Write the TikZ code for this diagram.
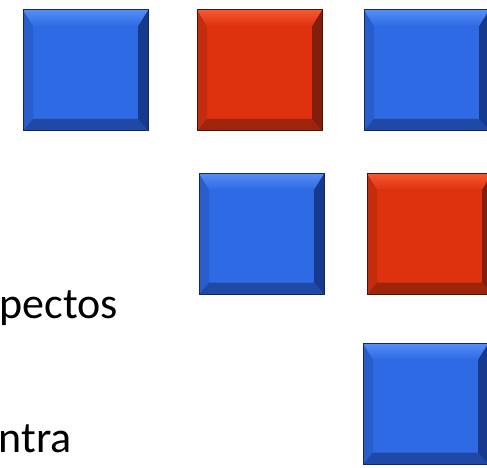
\documentclass[tikz,border=0pt]{standalone}
\usepackage{fontspec}
\setmainfont{Carlito}
\definecolor{blueface}{RGB}{46,106,228}
\definecolor{bluelight}{RGB}{84,142,246}
\definecolor{bluedark}{RGB}{24,58,140}
\definecolor{blueedge}{RGB}{20,40,90}
\definecolor{redface}{RGB}{222,50,14}
\definecolor{redlight}{RGB}{246,88,50}
\definecolor{reddark}{RGB}{130,30,12}
\definecolor{rededge}{RGB}{70,20,15}
\begin{document}
\begin{tikzpicture}[x=1pt,y=-1pt,
  tile/.style={rectangle,inner sep=0pt,minimum width=125pt,minimum height=121pt,
    fill=#1face,draw=#1edge,line width=1pt,
    path picture={
      \coordinate (nw) at (path picture bounding box.north west);
      \coordinate (ne) at (path picture bounding box.north east);
      \coordinate (sw) at (path picture bounding box.south west);
      \coordinate (se) at (path picture bounding box.south east);
      % bevels
      \fill[#1face!88!black] (nw) -- ([shift={(10pt,-16pt)}]nw) -- ([shift={(10pt,12pt)}]sw) -- (sw) -- cycle;
      \fill[#1dark] (ne) -- ([shift={(-10pt,-16pt)}]ne) -- ([shift={(-10pt,12pt)}]se) -- (se) -- cycle;
      \fill[#1dark!70!#1face] (sw) -- ([shift={(10pt,12pt)}]sw) -- ([shift={(-10pt,12pt)}]se) -- (se) -- cycle;
      \shade[top color=#1light,bottom color=#1face] (nw) -- (ne) -- ([shift={(-10pt,-16pt)}]ne) -- ([shift={(10pt,-16pt)}]nw) -- cycle;
    }},
  word/.style={font=\fontsize{44}{52}\selectfont,inner sep=0pt,anchor=base east}]
\useasboundingbox (0,0) rectangle (487,468);
\fill[white] (0,0) rectangle (487,468);
\clip (0,0) rectangle (487,468);
% first row
\node[tile=blue] (b1) at (85.5,70.5) {};
\node[tile=red]  (r1) at (259.5,70.5) {};
\node[tile=blue] (b2) at (426.5,70.5) {};
% second row
\node[tile=blue] (b3) at (261.5,234) {};
\node[tile=red]  (r2) at (429.5,234) {};
% third row
\node[tile=blue] (b4) at (425.5,404) {};
% cut-off text
\node[word] (w1) at (118,318) {pectos};
\node[word] (w2) at (72,452) {ntra};
\end{tikzpicture}
\end{document}
